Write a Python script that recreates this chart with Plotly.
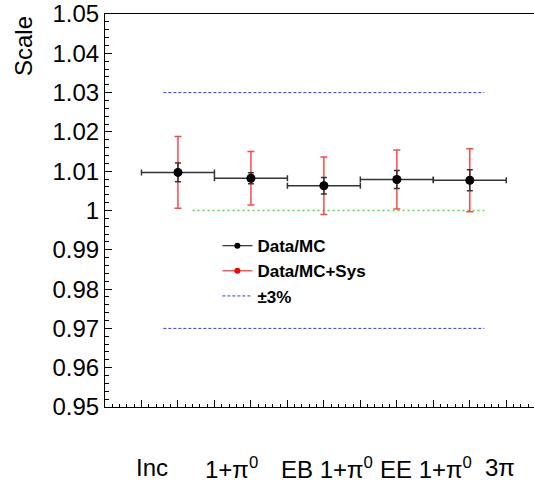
import plotly.graph_objects as go

# ---- data ----
bin_centers = [0, 1, 2, 3, 4]
bin_halfwidth = [0.5, 0.5, 0.5, 0.5, 0.5]
scale = [1.0097, 1.0082, 1.0063, 1.0079, 1.0077]
stat_err = [0.0024, 0.0014, 0.0021, 0.0023, 0.0027]
sys_err = [0.0091, 0.0068, 0.0073, 0.0075, 0.0080]

band_x = [-0.2, 4.2]
band_up = [1.03, 1.03]
band_dn = [0.97, 0.97]
unity_x = [0.2, 4.2]
unity_y = [1.0, 1.0]

cat_labels = ["Inc", "1+π<sup>0</sup>", "EB 1+π<sup>0</sup>", "EE 1+π<sup>0</sup>", "3π"]
cat_label_pos = [-0.35, 0.74, 2.04, 3.4, 4.42]

FONT = "Liberation Sans, Arial, sans-serif"

fig = go.Figure()

# blue +-3% lines
fig.add_trace(go.Scatter(x=band_x, y=band_up, mode="lines", name="±3%",
                         line=dict(color="#3333ff", width=1, dash="3px,2px"),
                         showlegend=False, hoverinfo="skip"))
fig.add_trace(go.Scatter(x=band_x, y=band_dn, mode="lines", name="±3%",
                         line=dict(color="#3333ff", width=1, dash="3px,2px"),
                         showlegend=False, hoverinfo="skip"))
# green unity line
fig.add_trace(go.Scatter(x=unity_x, y=unity_y, mode="lines",
                         line=dict(color="#33ee33", width=1.5, dash="2px,3px"),
                         showlegend=False, hoverinfo="skip"))

# red syst error
fig.add_trace(go.Scatter(x=bin_centers, y=scale, mode="markers",
                         marker=dict(color="red", size=8),
                         error_y=dict(type="data", array=sys_err, color="rgba(255,40,40,0.85)",
                                      thickness=1.5, width=3.5),
                         showlegend=False))
# black stat error
fig.add_trace(go.Scatter(x=bin_centers, y=scale, mode="markers",
                         marker=dict(color="black", size=9),
                         error_x=dict(type="data", array=bin_halfwidth, color="#333333",
                                      thickness=1.5, width=3),
                         error_y=dict(type="data", array=stat_err, color="#333333",
                                      thickness=1.5, width=3),
                         showlegend=False))

# legend entries
fig.add_trace(go.Scatter(x=[None], y=[None], mode="lines+markers", name="Data/MC",
                         line=dict(color="black", width=1), marker=dict(color="black", size=6),
                         legendgroup="a"))
fig.add_trace(go.Scatter(x=[None], y=[None], mode="lines+markers", name="Data/MC+Sys",
                         line=dict(color="red", width=1), marker=dict(color="red", size=6),
                         legendgroup="b"))
fig.add_trace(go.Scatter(x=[None], y=[None], mode="lines", name="±3%",
                         line=dict(color="#3333ff", width=1, dash="3px,2px"),
                         legendgroup="c"))

for lab, pos in zip(cat_labels, cat_label_pos):
    fig.add_annotation(x=pos, y=-0.155, xref="x", yref="paper", text=lab,
                       showarrow=False, font=dict(family=FONT, size=24, color="black"),
                       xanchor="center", yanchor="middle")

fig.add_annotation(x=-0.191, y=1.0, xref="paper", yref="paper", text="Scale",
                   textangle=-90, showarrow=False, xanchor="center", yanchor="top",
                   font=dict(family=FONT, size=24, color="black"))

fig.update_layout(
    width=534, height=484,
    margin=dict(l=105, r=0, t=14, b=77),
    paper_bgcolor="white", plot_bgcolor="white",
    font=dict(family=FONT, color="black"),
    legend=dict(x=0.262, y=0.455, xanchor="left", yanchor="top",
                bgcolor="rgba(0,0,0,0)", font=dict(family=FONT, size=17, color="black",
                                                   weight="bold"),
                tracegroupgap=0),
    xaxis=dict(range=[-1, 4.88], showgrid=False, zeroline=False,
               showline=True, linecolor="black", linewidth=1, mirror=True,
               ticks="inside", ticklen=7, tickcolor="black", dtick=0.5, tick0=-1,
               showticklabels=False,
               minor=dict(ticks="inside", ticklen=3.5, dtick=0.1, tickcolor="black")),
    yaxis=dict(range=[0.95, 1.05], showgrid=False, zeroline=False,
               showline=True, linecolor="black", linewidth=1,
               ticks="inside", ticklen=7, tickcolor="black", dtick=0.01, tick0=0.95,
               tickfont=dict(family=FONT, size=24, color="black"),
               minor=dict(ticks="inside", ticklen=3.5, dtick=0.002, tickcolor="black")),
)

fig.write_html("out.html")
